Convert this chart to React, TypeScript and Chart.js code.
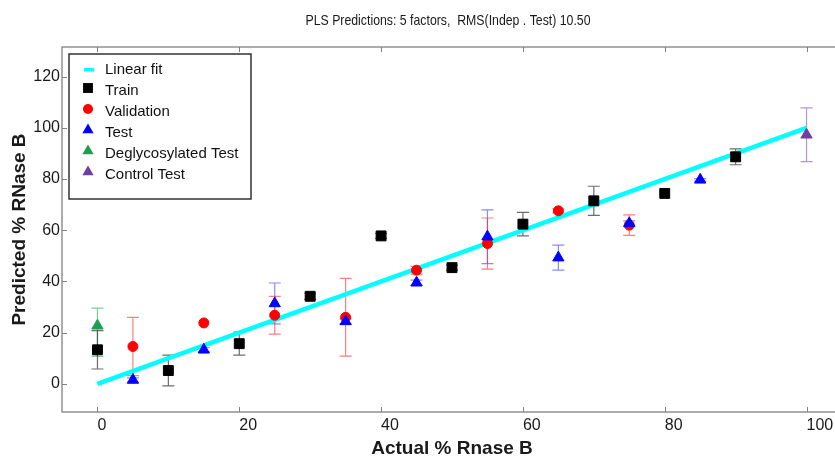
import { useEffect, useRef } from 'react';
import { Chart, registerables } from 'chart.js';

Chart.register(...registerables);

const chartTitle = 'PLS Predictions: 5 factors,  RMS(Indep . Test) 10.50';
const xTitle = 'Actual % Rnase B';
const yTitle = 'Predicted % RNase B';

const xTicks = [0, 20, 40, 60, 80, 100];
const yTicks = [0, 20, 40, 60, 80, 100, 120];

const fitX = [0, 100];
const fitY = [0, 100];

const trainX = [0, 10, 20, 30, 40, 50, 60, 70, 80, 90];
const trainY = [13.3, 5.2, 15.7, 34.2, 57.8, 45.4, 62.4, 71.5, 74.4, 88.7];
const trainErr = [7.5, 6, 4.5, 1.2, 1, 1, 4.6, 5.7, 0, 3.1];

const valX = [5, 15, 25, 35, 45, 55, 65, 75];
const valY = [14.6, 23.8, 26.8, 26, 44.4, 54.8, 67.6, 62];
const valErr = [11.4, 0, 7.4, 15.2, 1.5, 10, 0.8, 4];

const testX = [5, 15, 25, 35, 45, 55, 65, 75, 85];
const testY = [1.5, 13.3, 31.4, 24.4, 39.5, 57.5, 49.3, 62.7, 79.7];
const testErr = [0.8, 0.8, 8, 1, 1, 10.5, 4.9, 1, 0.5];

const deglyX = [0];
const deglyY = [22.7];
const deglyErrLow = [12];
const deglyErrHigh = [6.9];

const ctrlX = [100];
const ctrlY = [97.3];
const ctrlErr = [10.5];

const SANS = '"Liberation Sans", Arial, sans-serif';

const pts = (xs: number[], ys: number[]) => xs.map((x, i) => ({ x, y: ys[i] }));

const errorBarPlugin = {
  id: 'errorBars',
  beforeDatasetsDraw(chart: any) {
    const { ctx, scales } = chart;
    const xs = scales.x;
    const ys = scales.y;
    chart.data.datasets.forEach((ds: any) => {
      if (!ds.errLow) return;
      ctx.save();
      ctx.strokeStyle = ds.errColor;
      ctx.lineWidth = 1.2;
      ds.data.forEach((p: any, j: number) => {
        const lo = ds.errLow[j] || 0;
        const hi = ds.errHigh[j] || 0;
        if (!lo && !hi) return;
        const px = xs.getPixelForValue(p.x);
        const top = ys.getPixelForValue(p.y + hi);
        const bot = ys.getPixelForValue(p.y - lo);
        ctx.beginPath();
        ctx.moveTo(px, top);
        ctx.lineTo(px, bot);
        ctx.moveTo(px - 6, top);
        ctx.lineTo(px + 6, top);
        ctx.moveTo(px - 6, bot);
        ctx.lineTo(px + 6, bot);
        ctx.stroke();
      });
      ctx.restore();
    });
  },
};

const framePlugin = {
  id: 'frame',
  beforeDatasetsDraw(chart: any) {
    const { ctx, chartArea: a, scales } = chart;
    ctx.save();
    ctx.strokeStyle = '#808080';
    ctx.lineWidth = 1.3;
    ctx.strokeRect(a.left, a.top, a.right - a.left, a.bottom - a.top);
    ctx.lineWidth = 1;
    ctx.beginPath();
    xTicks.forEach((v) => {
      const px = Math.round(scales.x.getPixelForValue(v)) + 0.5;
      ctx.moveTo(px, a.bottom);
      ctx.lineTo(px, a.bottom - 5);
      ctx.moveTo(px, a.top);
      ctx.lineTo(px, a.top + 5);
    });
    yTicks.forEach((v) => {
      const py = Math.round(scales.y.getPixelForValue(v)) + 0.5;
      ctx.moveTo(a.left, py);
      ctx.lineTo(a.left + 5, py);
      ctx.moveTo(a.right, py);
      ctx.lineTo(a.right - 5, py);
    });
    ctx.stroke();
    ctx.restore();
  },
};

const titlePlugin = {
  id: 'narrowTitle',
  afterDraw(chart: any) {
    const { ctx } = chart;
    ctx.save();
    ctx.font = '15px ' + SANS;
    ctx.fillStyle = '#1a1a1a';
    ctx.textAlign = 'center';
    ctx.textBaseline = 'middle';
    ctx.translate(448, 21);
    ctx.scale(0.82, 1);
    ctx.fillText(chartTitle, 0, 0);
    ctx.restore();
  },
};

function drawMarker(ctx: CanvasRenderingContext2D, style: string, x: number, y: number, r: number, color: string) {
  ctx.fillStyle = color;
  ctx.beginPath();
  if (style === 'rect') {
    const s = Math.SQRT1_2 * r;
    ctx.rect(x - s, y - s, 2 * s, 2 * s);
  } else if (style === 'circle') {
    ctx.arc(x, y, r, 0, Math.PI * 2);
  } else if (style === 'triangle') {
    ctx.moveTo(x, y - r);
    ctx.lineTo(x + r * 0.866, y + r / 2);
    ctx.lineTo(x - r * 0.866, y + r / 2);
    ctx.closePath();
  }
  ctx.fill();
}

const legendPlugin = {
  id: 'boxLegend',
  afterDraw(chart: any) {
    const { ctx, chartArea: a } = chart;
    const left = a.left + 7;
    const top = a.top + 7;
    const w = 182;
    const h = 145;
    ctx.save();
    ctx.fillStyle = '#ffffff';
    ctx.fillRect(left, top, w, h);
    ctx.strokeStyle = '#333333';
    ctx.lineWidth = 1.5;
    ctx.strokeRect(left, top, w, h);
    const order = [5, 4, 3, 2, 1, 0];
    ctx.font = '15px ' + SANS;
    ctx.textBaseline = 'middle';
    ctx.textAlign = 'left';
    order.forEach((di, i) => {
      const ds = chart.data.datasets[di];
      const cy = top + 16 + i * 21;
      const mx = left + 19;
      if (ds.showLine) {
        ctx.fillStyle = ds.borderColor;
        ctx.fillRect(mx - 4, cy - 2, 10, 3.5);
      } else {
        drawMarker(ctx, ds.pointStyle, mx, cy - 3, ds.pointRadius, ds.backgroundColor);
      }
      ctx.fillStyle = '#111111';
      ctx.fillText(ds.label, left + 36, cy);
    });
    ctx.restore();
  },
};

export default function App() {
  const ref = useRef<HTMLCanvasElement | null>(null);

  useEffect(() => {
    if (!ref.current) return;
    const mk = (label: string, xs: number[], ys: number[], style: string, r: number, color: string, errColor: string, lo: number[], hi: number[]) => ({
      label,
      data: pts(xs, ys),
      pointStyle: style,
      pointRadius: r,
      pointHoverRadius: r,
      pointBorderWidth: 1,
      backgroundColor: color,
      borderColor: color,
      showLine: false,
      errLow: lo,
      errHigh: hi,
      errColor,
    });
    const chart = new Chart(ref.current, {
      type: 'scatter',
      data: {
        datasets: [
          mk('Control Test', ctrlX, ctrlY, 'triangle', 6.5, '#6f3fa0', 'rgba(111,63,160,0.55)', ctrlErr, ctrlErr),
          mk('Deglycosylated Test', deglyX, deglyY, 'triangle', 6.5, '#1e9e50', 'rgba(30,170,80,0.6)', deglyErrLow, deglyErrHigh),
          mk('Test', testX, testY, 'triangle', 6.5, '#0000ff', 'rgba(60,60,255,0.6)', testErr, testErr),
          mk('Validation', valX, valY, 'circle', 5, '#ff0000', 'rgba(255,40,40,0.6)', valErr, valErr),
          mk('Train', trainX, trainY, 'rect', 7, '#000000', 'rgba(60,60,60,0.75)', trainErr, trainErr),
          {
            label: 'Linear fit',
            data: pts(fitX, fitY),
            showLine: true,
            borderColor: '#00ffff',
            backgroundColor: '#00ffff',
            borderWidth: 4.5,
            pointRadius: 0,
            pointHoverRadius: 0,
          } as any,
        ] as any,
      },
      options: {
        responsive: false,
        animation: false,
        devicePixelRatio: 1,
        layout: { padding: { top: 47, left: 0, right: 0, bottom: 0 } },
        plugins: {
          legend: { display: false },
          tooltip: { enabled: false },
          title: { display: false },
        },
        scales: {
          x: {
            type: 'linear',
            min: -5,
            max: 105,
            grid: { display: false, drawTicks: false },
            border: { display: false },
            afterBuildTicks: (s: any) => {
              s.ticks = xTicks.map((v) => ({ value: v }));
            },
            afterFit: (s: any) => {
              s.height = 48;
              s.paddingLeft = 0;
              s.paddingRight = 0;
            },
            ticks: {
              align: 'start',
              padding: 4,
              color: '#1a1a1a',
              font: { family: SANS, size: 16 },
              maxRotation: 0,
            },
            title: {
              display: true,
              text: xTitle,
              color: '#1a1a1a',
              font: { family: SANS, size: 19, weight: 'bold' },
              padding: { top: 0, bottom: 0 },
            },
          },
          y: {
            type: 'linear',
            min: -11,
            max: 131.6,
            grid: { display: false, drawTicks: false },
            border: { display: false },
            afterBuildTicks: (s: any) => {
              s.ticks = yTicks.map((v) => ({ value: v }));
            },
            afterFit: (s: any) => {
              s.width = 62;
              s.paddingTop = 0;
              s.paddingBottom = 0;
            },
            ticks: {
              padding: 2,
              color: '#1a1a1a',
              font: { family: SANS, size: 16 },
            },
            title: {
              display: true,
              text: yTitle,
              color: '#1a1a1a',
              font: { family: SANS, size: 19, weight: 'bold' },
              padding: { top: 8, bottom: 0 },
            },
          },
        },
      } as any,
      plugins: [framePlugin, errorBarPlugin, legendPlugin, titlePlugin],
    });
    return () => chart.destroy();
  }, []);

  return (
    <div style={{ position: 'absolute', left: 0, top: 0, width: 835, height: 460, overflow: 'hidden', background: '#fff' }}>
      <canvas ref={ref} width={850} height={460} style={{ display: 'block' }} />
    </div>
  );
}
